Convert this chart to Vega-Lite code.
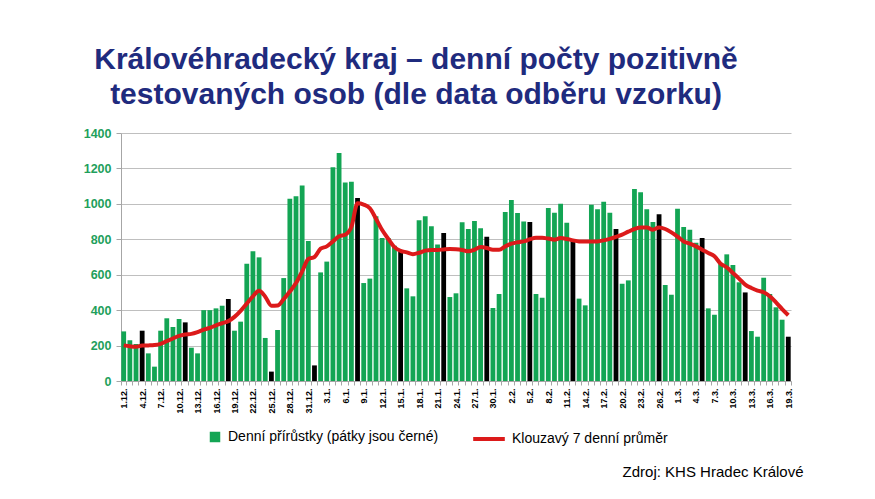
{
  "$schema": "https://vega.github.io/schema/vega-lite/v6.json",
  "width": 670,
  "height": 248,
  "autosize": {"type": "none"},
  "padding": {"left": 121, "top": 133, "right": 84, "bottom": 118},
  "background": "white",
  "config": {"view": {"stroke": null}, "font": "Liberation Sans"},
  "title": {
    "text": ["Královéhradecký kraj – denní počty pozitivně", "testovaných osob (dle data odběru vzorku)"],
    "font": "Liberation Sans",
    "fontSize": 30,
    "fontWeight": "bold",
    "color": "#1F2B7E",
    "anchor": "middle",
    "dx": -40,
    "offset": 17,
    "lineHeight": 35
  },
  "data": {
    "values": [
      {"d": "1.12.", "v": 280, "a": 201, "f": false},
      {"d": "2.12.", "v": 230, "a": 196, "f": false},
      {"d": "3.12.", "v": 209, "a": 193, "f": false},
      {"d": "4.12.", "v": 284, "a": 200, "f": true},
      {"d": "5.12.", "v": 156, "a": 201, "f": false},
      {"d": "6.12.", "v": 81, "a": 203, "f": false},
      {"d": "7.12.", "v": 284, "a": 210, "f": false},
      {"d": "8.12.", "v": 354, "a": 225, "f": false},
      {"d": "9.12.", "v": 305, "a": 240, "f": false},
      {"d": "10.12.", "v": 350, "a": 255, "f": false},
      {"d": "11.12.", "v": 331, "a": 263, "f": true},
      {"d": "12.12.", "v": 188, "a": 266, "f": false},
      {"d": "13.12.", "v": 156, "a": 276, "f": false},
      {"d": "14.12.", "v": 400, "a": 290, "f": false},
      {"d": "15.12.", "v": 400, "a": 300, "f": false},
      {"d": "16.12.", "v": 410, "a": 314, "f": false},
      {"d": "17.12.", "v": 425, "a": 326, "f": false},
      {"d": "18.12.", "v": 463, "a": 338, "f": true},
      {"d": "19.12.", "v": 284, "a": 362, "f": false},
      {"d": "20.12.", "v": 335, "a": 396, "f": false},
      {"d": "21.12.", "v": 662, "a": 437, "f": false},
      {"d": "22.12.", "v": 732, "a": 478, "f": false},
      {"d": "23.12.", "v": 698, "a": 510, "f": false},
      {"d": "24.12.", "v": 243, "a": 476, "f": false},
      {"d": "25.12.", "v": 53, "a": 425, "f": true},
      {"d": "26.12.", "v": 288, "a": 426, "f": false},
      {"d": "27.12.", "v": 581, "a": 462, "f": false},
      {"d": "28.12.", "v": 1029, "a": 505, "f": false},
      {"d": "29.12.", "v": 1043, "a": 553, "f": false},
      {"d": "30.12.", "v": 1103, "a": 619, "f": false},
      {"d": "31.12.", "v": 790, "a": 689, "f": false},
      {"d": "1.1.", "v": 88, "a": 700, "f": true},
      {"d": "2.1.", "v": 613, "a": 747, "f": false},
      {"d": "3.1.", "v": 674, "a": 760, "f": false},
      {"d": "4.1.", "v": 1206, "a": 788, "f": false},
      {"d": "5.1.", "v": 1287, "a": 817, "f": false},
      {"d": "6.1.", "v": 1120, "a": 826, "f": false},
      {"d": "7.1.", "v": 1125, "a": 870, "f": false},
      {"d": "8.1.", "v": 1033, "a": 1003, "f": true},
      {"d": "9.1.", "v": 553, "a": 996, "f": false},
      {"d": "10.1.", "v": 578, "a": 975, "f": false},
      {"d": "11.1.", "v": 930, "a": 916, "f": false},
      {"d": "12.1.", "v": 807, "a": 852, "f": false},
      {"d": "13.1.", "v": 807, "a": 802, "f": false},
      {"d": "14.1.", "v": 764, "a": 756, "f": false},
      {"d": "15.1.", "v": 732, "a": 735, "f": true},
      {"d": "16.1.", "v": 523, "a": 726, "f": false},
      {"d": "17.1.", "v": 478, "a": 716, "f": false},
      {"d": "18.1.", "v": 907, "a": 724, "f": false},
      {"d": "19.1.", "v": 930, "a": 736, "f": false},
      {"d": "20.1.", "v": 873, "a": 740, "f": false},
      {"d": "21.1.", "v": 770, "a": 740, "f": false},
      {"d": "22.1.", "v": 835, "a": 743, "f": true},
      {"d": "23.1.", "v": 474, "a": 745, "f": false},
      {"d": "24.1.", "v": 495, "a": 744, "f": false},
      {"d": "25.1.", "v": 896, "a": 740, "f": false},
      {"d": "26.1.", "v": 858, "a": 732, "f": false},
      {"d": "27.1.", "v": 903, "a": 741, "f": false},
      {"d": "28.1.", "v": 862, "a": 756, "f": false},
      {"d": "29.1.", "v": 815, "a": 751, "f": true},
      {"d": "30.1.", "v": 412, "a": 741, "f": false},
      {"d": "31.1.", "v": 491, "a": 741, "f": false},
      {"d": "1.2.", "v": 954, "a": 760, "f": false},
      {"d": "2.2.", "v": 1022, "a": 775, "f": false},
      {"d": "3.2.", "v": 948, "a": 783, "f": false},
      {"d": "4.2.", "v": 901, "a": 788, "f": false},
      {"d": "5.2.", "v": 898, "a": 800, "f": true},
      {"d": "6.2.", "v": 491, "a": 808, "f": false},
      {"d": "7.2.", "v": 470, "a": 808, "f": false},
      {"d": "8.2.", "v": 977, "a": 804, "f": false},
      {"d": "9.2.", "v": 950, "a": 798, "f": false},
      {"d": "10.2.", "v": 1001, "a": 807, "f": false},
      {"d": "11.2.", "v": 894, "a": 802, "f": false},
      {"d": "12.2.", "v": 790, "a": 794, "f": true},
      {"d": "13.2.", "v": 465, "a": 788, "f": false},
      {"d": "14.2.", "v": 427, "a": 787, "f": false},
      {"d": "15.2.", "v": 995, "a": 787, "f": false},
      {"d": "16.2.", "v": 969, "a": 788, "f": false},
      {"d": "17.2.", "v": 1012, "a": 794, "f": false},
      {"d": "18.2.", "v": 950, "a": 802, "f": false},
      {"d": "19.2.", "v": 858, "a": 813, "f": true},
      {"d": "20.2.", "v": 549, "a": 826, "f": false},
      {"d": "21.2.", "v": 568, "a": 843, "f": false},
      {"d": "22.2.", "v": 1084, "a": 858, "f": false},
      {"d": "23.2.", "v": 1065, "a": 867, "f": false},
      {"d": "24.2.", "v": 969, "a": 866, "f": false},
      {"d": "25.2.", "v": 898, "a": 854, "f": false},
      {"d": "26.2.", "v": 941, "a": 867, "f": true},
      {"d": "27.2.", "v": 542, "a": 858, "f": false},
      {"d": "28.2.", "v": 487, "a": 839, "f": false},
      {"d": "1.3.", "v": 973, "a": 815, "f": false},
      {"d": "2.3.", "v": 869, "a": 788, "f": false},
      {"d": "3.3.", "v": 854, "a": 775, "f": false},
      {"d": "4.3.", "v": 780, "a": 760, "f": false},
      {"d": "5.3.", "v": 807, "a": 741, "f": true},
      {"d": "6.3.", "v": 410, "a": 723, "f": false},
      {"d": "7.3.", "v": 374, "a": 704, "f": false},
      {"d": "8.3.", "v": 660, "a": 662, "f": false},
      {"d": "9.3.", "v": 715, "a": 642, "f": false},
      {"d": "10.3.", "v": 655, "a": 610, "f": false},
      {"d": "11.3.", "v": 557, "a": 578, "f": false},
      {"d": "12.3.", "v": 500, "a": 544, "f": true},
      {"d": "13.3.", "v": 282, "a": 525, "f": false},
      {"d": "14.3.", "v": 250, "a": 510, "f": false},
      {"d": "15.3.", "v": 583, "a": 501, "f": false},
      {"d": "16.3.", "v": 491, "a": 478, "f": false},
      {"d": "17.3.", "v": 416, "a": 444, "f": false},
      {"d": "18.3.", "v": 346, "a": 406, "f": false},
      {"d": "19.3.", "v": 250, "a": 371, "f": true}
    ]
  },
  "encoding": {
    "x": {
      "field": "d",
      "type": "ordinal",
      "sort": null,
      "scale": {"paddingInner": 0.22, "paddingOuter": 0.05},
      "axis": {
        "title": "Zdroj: KHS Hradec Králové",
        "titleFont": "Liberation Sans",
        "titleFontSize": 15,
        "titleFontWeight": "normal",
        "titleColor": "black",
        "titleAnchor": "end",
        "titleAlign": "right",
        "titleBaseline": "alphabetic",
        "titleX": 682,
        "titleY": 95,
        "labelAngle": 270,
        "labelFontSize": 9,
        "labelFontWeight": "bold",
        "labelColor": "black",
        "labelPadding": 3,
        "labelOverlap": false,
        "labelExpr": "indexof(['1.12.','4.12.','7.12.','10.12.','13.12.','16.12.','19.12.','22.12.','25.12.','28.12.','31.12.','3.1.','6.1.','9.1.','12.1.','15.1.','18.1.','21.1.','24.1.','27.1.','30.1.','2.2.','5.2.','8.2.','11.2.','14.2.','17.2.','20.2.','23.2.','26.2.','1.3.','4.3.','7.3.','10.3.','13.3.','16.3.','19.3.'], datum.value) >= 0 ? datum.label : ''",
        "tickBand": "extent",
        "tickSize": 4,
        "tickColor": "#A6A6A6",
        "domainColor": "#A6A6A6",
        "grid": false
      }
    },
    "y": {
      "field": "v",
      "type": "quantitative",
      "scale": {"domain": [0, 1400]},
      "axis": {
        "title": null,
        "format": "d",
        "values": [0, 200, 400, 600, 800, 1000, 1200, 1400],
        "grid": true,
        "gridColor": "#BFBFBF",
        "gridWidth": 1.2,
        "domainColor": "#A6A6A6",
        "tickColor": "#A6A6A6",
        "tickSize": 5,
        "labelFontSize": 12.5,
        "labelFontWeight": "bold",
        "labelColor": "#1FA05C",
        "labelPadding": 5
      }
    }
  },
  "layer": [
    {
      "mark": {"type": "bar"},
      "encoding": {
        "fill": {
          "condition": {"test": "datum.f", "value": "#000000"},
          "datum": "Denní přírůstky (pátky jsou černé)",
          "type": "nominal",
          "scale": {"range": ["#13A554"]},
          "legend": {
            "orient": "none",
            "legendX": 87,
            "legendY": 297,
            "title": null,
            "padding": 0,
            "symbolType": "square",
            "symbolSize": 110,
            "labelFont": "Liberation Sans",
            "labelFontSize": 14,
            "labelColor": "black",
            "labelOffset": 6,
            "labelLimit": 400
          }
        }
      }
    },
    {
      "mark": {"type": "line", "strokeWidth": 4, "interpolate": "monotone"},
      "encoding": {
        "y": {"field": "a", "type": "quantitative"},
        "stroke": {
          "datum": "Klouzavý 7 denní průměr",
          "type": "nominal",
          "scale": {"range": ["#DC1A1A"]},
          "legend": {
            "orient": "none",
            "legendX": 350,
            "legendY": 288,
            "title": null,
            "padding": 0,
            "symbolType": "stroke",
            "symbolSize": 1000,
            "symbolStrokeWidth": 4,
            "labelFont": "Liberation Sans",
            "labelFontSize": 14,
            "labelColor": "black",
            "labelOffset": 5,
            "labelLimit": 400
          }
        }
      }
    }
  ]
}
